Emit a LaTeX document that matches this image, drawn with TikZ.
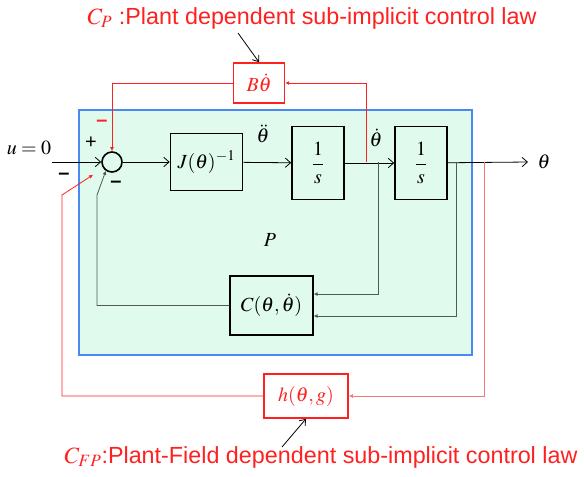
\documentclass[tikz,border=0pt]{standalone}
\usepackage{mathptmx}
\usepackage{fontspec}
\setmainfont{Liberation Sans}
\usetikzlibrary{arrows.meta}
\definecolor{lawred}{HTML}{FF2020}
\definecolor{palered}{HTML}{F27878}
\definecolor{plantblue}{HTML}{4A88F2}
\definecolor{plantfill}{HTML}{E0FAEE}
\definecolor{wiregray}{HTML}{505A55}

\begin{document}
\begin{tikzpicture}[x=0.75pt,y=-0.75pt,
    every node/.style={font=\fontsize{15}{17}\selectfont},
    blockbox/.style={draw,very thick,inner sep=2pt},
    lawbox/.style={draw=lawred,very thick,fill=white,text=lawred,inner sep=2pt},
    fwd/.style={semithick,-{Straight Barb[length=4pt,width=7pt]}},
    fb/.style={wiregray,semithick,-{Latex[length=3pt,width=3pt]}},
    redline/.style={lawred,semithick,-{Latex[length=3pt,width=3pt]}},
    paleline/.style={palered,semithick,-{Latex[length=3pt,width=3pt]}},
    callout/.style={semithick,-{Straight Barb[length=4pt,width=6pt]}},
    sign/.style={font=\fontsize{15}{15}\selectfont\bfseries},
    lawtext/.style={text=lawred,font=\fontsize{17.5}{19}\selectfont}]
  \useasboundingbox (0,0) rectangle (584,476);
  \draw[plantblue,very thick,fill=plantfill] (79,110) rectangle (472,355);
  \node (plant) at (270,240) {$P$};

  \node[draw,very thick,circle,minimum size=15pt,inner sep=0pt] (sum) at (112,162) {};
  \node[blockbox,minimum width=54pt,minimum height=43pt] (jinv) at (206.5,162) {$J(\theta)^{-1}$};
  \node[blockbox,minimum width=39pt,minimum height=55pt] (int1) at (318,163) {$\displaystyle\frac{1}{s}$};
  \node[blockbox,minimum width=39pt,minimum height=55pt] (int2) at (421,163) {$\displaystyle\frac{1}{s}$};
  \node[blockbox,minimum width=62pt,minimum height=44pt] (coriolis) at (271.5,305.5) {$C(\theta,\dot\theta)$};
  \node[lawbox,minimum width=38pt,minimum height=30pt] (damp) at (259,83) {$B\dot\theta$};
  \node[lawbox,minimum width=63pt,minimum height=33pt] (grav) at (306,396) {$h(\theta,g)$};

  \node (ulabel) at (29,148) {$u=0$};
  \node (accel) at (263,134) {$\ddot\theta$};
  \node (veloc) at (376,138) {$\dot\theta$};
  \node (angle) at (544,162) {$\theta$};
  \node (plus) at (91,143) {+};
  \node[sign,text=lawred] (mred) at (102,123) {--};
  \node[sign] (mleft) at (64,176) {--};
  \node[sign] (mright) at (116,184) {--};

  \node[lawtext] (cplabel) at (312,18) {$C_P$ :Plant dependent sub-implicit control law};
  \node[lawtext] (cfplabel) at (321,457) {$C_{FP}$:Plant-Field dependent sub-implicit control law};

  \coordinate (uin) at (52,162);
  \coordinate (yout) at (528,162);
  \coordinate (tapred) at (366,162);
  \coordinate (tapvel) at (378,162);
  \coordinate (tappos) at (456,162);
  \coordinate (tappale) at (484,162);
  \coordinate (cbend) at (97,195);
  \coordinate (gbend) at (62,195);
  \coordinate (cptail) at (238,33);
  \coordinate (cfptail) at (282,447);

  \draw[fwd] (uin) -- (sum);
  \draw[fwd] (sum) -- (jinv);
  \draw[fwd] (jinv) -- (int1);
  \draw[fwd] (int1) -- (int2);
  \draw[fwd] (int2) -- (yout);

  \draw[fb] (tapvel) |- ([yshift=8.6pt]coriolis.east);
  \draw[fb] (tappos) |- ([yshift=-7.9pt]coriolis.east);
  \draw[fb] (coriolis.west) -| (cbend) -- (sum.235);

  \draw[redline] (damp.west) -| (sum.north);
  \draw[redline] (tapred) |- (damp.east);
  \draw[paleline] (tappale) |- (grav.east);
  \draw[redline,shorten >=9pt] (grav.west) -| (gbend) -- (sum.215);

  \draw[callout] (cptail) -- (damp.north);
  \draw[callout] (cfptail) -- (grav.south);
\end{tikzpicture}
\end{document}
